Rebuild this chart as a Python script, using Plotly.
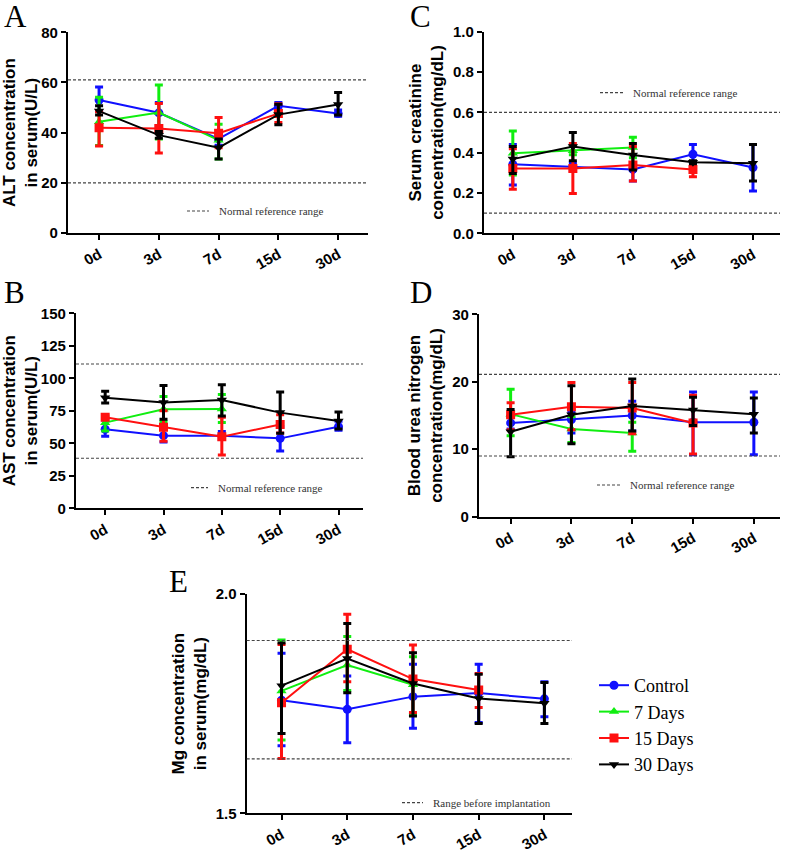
import plotly.graph_objects as go

W, H = 787, 852

categories = ["0d", "3d", "7d", "15d", "30d"]
series_names = ["Control", "7 Days", "15 Days", "30 Days"]
series_colors = ["#1010ff", "#10ee10", "#ff1010", "#000000"]
series_symbols = ["circle", "triangle-up", "square", "triangle-down"]

# ---- Panel A: ALT (U/L) ----
alt_control = [53.0, 47.9, 37.5, 50.7, 47.6]
alt_control_hi = [58.2, 52.0, 39.5, 52.0, 49.0]
alt_control_lo = [48.5, 42.7, 35.0, 49.0, 46.5]
alt_7d = [44.3, 48.0, 37.0]
alt_7d_hi = [54.1, 59.0, 43.3]
alt_7d_lo = [34.9, 37.5, 29.5]
alt_15d = [42.0, 41.7, 39.8, 47.6]
alt_15d_hi = [48.3, 51.6, 46.0, 51.5]
alt_15d_lo = [34.7, 31.9, 34.0, 44.0]
alt_30d = [48.6, 39.0, 34.0, 47.2, 51.2]
alt_30d_hi = [50.7, 40.5, 37.5, 51.3, 56.0]
alt_30d_lo = [47.0, 37.8, 29.5, 43.1, 47.0]
alt_ref = [61.0, 20.0]

# ---- Panel B: AST (U/L) ----
ast_control = [60.8, 55.9, 55.9, 53.8, 62.8]
ast_control_hi = [68.0, 61.0, 59.0, 63.0, 67.0]
ast_control_lo = [55.5, 51.0, 53.0, 44.0, 60.0]
ast_7d = [65.9, 76.2, 76.4]
ast_7d_hi = [71.0, 86.0, 87.5]
ast_7d_lo = [59.5, 66.7, 66.0]
ast_15d = [70.0, 62.3, 55.1, 64.4]
ast_15d_hi = [71.0, 75.0, 70.0, 72.0]
ast_15d_lo = [69.0, 51.5, 41.0, 58.0]
ast_30d = [85.1, 81.3, 83.3, 73.6, 67.2]
ast_30d_hi = [90.0, 94.5, 95.0, 89.5, 74.0]
ast_30d_lo = [81.0, 68.5, 71.0, 57.7, 61.0]
ast_ref = [111.0, 38.5]

# ---- Panel C: creatinine (mg/dL) ----
cre_control = [0.342, 0.330, 0.317, 0.392, 0.326]
cre_control_hi = [0.440, 0.350, 0.330, 0.440, 0.440]
cre_control_lo = [0.240, 0.310, 0.260, 0.350, 0.210]
cre_7d = [0.397, 0.410, 0.425]
cre_7d_hi = [0.507, 0.430, 0.476]
cre_7d_lo = [0.289, 0.390, 0.375]
cre_15d = [0.322, 0.322, 0.339, 0.317]
cre_15d_hi = [0.420, 0.446, 0.430, 0.355]
cre_15d_lo = [0.218, 0.198, 0.260, 0.280]
cre_30d = [0.368, 0.430, 0.388, 0.352, 0.347]
cre_30d_hi = [0.430, 0.500, 0.446, 0.360, 0.440]
cre_30d_lo = [0.297, 0.360, 0.314, 0.345, 0.260]
cre_ref = [0.6, 0.1]

# ---- Panel D: BUN (mg/dL) ----
bun_control = [13.9, 14.4, 15.0, 14.0, 14.0]
bun_control_hi = [14.8, 15.5, 17.1, 18.5, 18.5]
bun_control_lo = [13.0, 12.4, 12.7, 9.2, 9.2]
bun_7d = [15.2, 13.0, 12.4]
bun_7d_hi = [18.9, 14.8, 14.0]
bun_7d_lo = [12.0, 11.0, 9.7]
bun_15d = [15.1, 16.3, 16.1, 13.9]
bun_15d_hi = [16.9, 19.9, 19.9, 18.0]
bun_15d_lo = [12.9, 12.9, 12.3, 9.3]
bun_30d = [12.6, 15.1, 16.4, 15.8, 15.2]
bun_30d_hi = [15.9, 19.4, 20.4, 17.7, 17.6]
bun_30d_lo = [8.9, 10.8, 12.7, 13.5, 12.4]
bun_ref = [21.1, 9.0]

# ---- Panel E: Mg (mg/dL) ----
mg_control = [1.758, 1.737, 1.766, 1.774, 1.761]
mg_control_hi = [1.865, 1.813, 1.840, 1.840, 1.800]
mg_control_lo = [1.654, 1.661, 1.694, 1.707, 1.720]
mg_7d = [1.779, 1.838, 1.793]
mg_7d_hi = [1.895, 1.903, 1.857]
mg_7d_lo = [1.667, 1.780, 1.726]
mg_15d = [1.752, 1.874, 1.806, 1.781]
mg_15d_hi = [1.885, 1.954, 1.884, 1.819]
mg_15d_lo = [1.625, 1.800, 1.730, 1.741]
mg_30d = [1.791, 1.853, 1.796, 1.762, 1.751]
mg_30d_hi = [1.888, 1.933, 1.866, 1.817, 1.798]
mg_30d_lo = [1.682, 1.775, 1.722, 1.705, 1.705]
mg_ref = [1.894, 1.624]

panels = [
    dict(letter="A", title="ALT concentration<br>in serum(U/L)",
         data=[(alt_control, alt_control_hi, alt_control_lo), (alt_7d, alt_7d_hi, alt_7d_lo),
               (alt_15d, alt_15d_hi, alt_15d_lo), (alt_30d, alt_30d_hi, alt_30d_lo)],
         ref=alt_ref, yrange=[0, 80], ytick=[0, 20, 40, 60, 80], ytext=None,
         box=(68, 368, 32.3, 233), xr=[-0.52, 4.5], letterpos=(15, 16),
         note="Normal reference range", notepos=(187, 209, 211)),
    dict(letter="B", title="AST concentration<br>in serum(U/L)",
         data=[(ast_control, ast_control_hi, ast_control_lo), (ast_7d, ast_7d_hi, ast_7d_lo),
               (ast_15d, ast_15d_hi, ast_15d_lo), (ast_30d, ast_30d_hi, ast_30d_lo)],
         ref=ast_ref, yrange=[0, 150], ytick=[0, 25, 50, 75, 100, 125, 150], ytext=None,
         box=(76, 363, 313.3, 508.3), xr=[-0.5, 4.42], letterpos=(14, 292),
         note="Normal reference range", notepos=(191, 208, 487.7)),
    dict(letter="C", title="Serum creatinine<br>concentration(mg/dL)",
         data=[(cre_control, cre_control_hi, cre_control_lo), (cre_7d, cre_7d_hi, cre_7d_lo),
               (cre_15d, cre_15d_hi, cre_15d_lo), (cre_30d, cre_30d_hi, cre_30d_lo)],
         ref=cre_ref, yrange=[0, 1.0], ytick=[0, 0.2, 0.4, 0.6, 0.8, 1.0],
         ytext=["0.0", "0.2", "0.4", "0.6", "0.8", "1.0"],
         box=(484, 780, 31.7, 233.3), xr=[-0.48, 4.45], letterpos=(421, 16),
         note="Normal reference range", notepos=(600, 623, 92.7)),
    dict(letter="D", title="Blood urea nitrogen<br>concentration(mg/dL)",
         data=[(bun_control, bun_control_hi, bun_control_lo), (bun_7d, bun_7d_hi, bun_7d_lo),
               (bun_15d, bun_15d_hi, bun_15d_lo), (bun_30d, bun_30d_hi, bun_30d_lo)],
         ref=bun_ref, yrange=[0, 30], ytick=[0, 10, 20, 30], ytext=None,
         box=(479, 780, 314.3, 516.7), xr=[-0.52, 4.43], letterpos=(421, 292),
         note="Normal reference range", notepos=(597, 620, 485)),
    dict(letter="E", title="Mg concentration<br>in serum(mg/dL)",
         data=[(mg_control, mg_control_hi, mg_control_lo), (mg_7d, mg_7d_hi, mg_7d_lo),
               (mg_15d, mg_15d_hi, mg_15d_lo), (mg_30d, mg_30d_hi, mg_30d_lo)],
         ref=mg_ref, yrange=[1.5, 2.0], ytick=[1.5, 2.0], ytext=["1.5", "2.0"],
         box=(246.7, 572, 594, 813.3), xr=[-0.53, 4.42], letterpos=(178, 581),
         note="Range before implantation", notepos=(402, 423, 802.7)),
]

fig = go.Figure()
shapes = []
annotations = []
tick_font = dict(family="Liberation Sans, Arial", size=15, color="black", weight="bold")
title_font = dict(family="Liberation Sans, Arial", size=17, color="black", weight="bold")
serif = "Liberation Serif"

for i, p in enumerate(panels):
    n = "" if i == 0 else str(i + 1)
    xa, ya = "x" + n, "y" + n
    x0, x1, top, bot = p["box"]
    fig.layout["xaxis" + n] = dict(
        domain=[x0 / W, x1 / W], anchor=ya, range=p["xr"], automargin=False,
        tickvals=list(range(len(categories))), ticktext=categories, tickangle=-30,
        showline=True, linecolor="black", linewidth=2.2, ticks="outside", ticklen=5,
        tickwidth=2, tickcolor="black", showgrid=False, zeroline=False, tickfont=tick_font)
    fig.layout["yaxis" + n] = dict(
        domain=[1 - bot / H, 1 - top / H], anchor=xa, range=p["yrange"], automargin=False,
        tickvals=p["ytick"], ticktext=p["ytext"] if p["ytext"] else [str(v) for v in p["ytick"]],
        showline=True, linecolor="black", linewidth=2.2, ticks="outside", ticklen=5,
        tickwidth=2, tickcolor="black", showgrid=False, zeroline=False, tickfont=tick_font,
        title=dict(text=p["title"], font=title_font, standoff=5))
    for s, (mean, hi, lo) in enumerate(p["data"]):
        xs = list(range(len(mean)))
        fig.add_trace(go.Scatter(
            x=xs, y=mean, xaxis=xa, yaxis=ya, mode="lines+markers",
            name=series_names[s], showlegend=(i == 4),
            line=dict(color=series_colors[s], width=2),
            marker=dict(symbol=series_symbols[s], size=9, color=series_colors[s]),
            error_y=dict(type="data", symmetric=False,
                         array=[h - m for h, m in zip(hi, mean)],
                         arrayminus=[m - l for m, l in zip(mean, lo)],
                         color=series_colors[s], thickness=3, width=4)))
    for r in p["ref"]:
        shapes.append(dict(type="line", xref=xa + " domain", yref=ya, x0=0, x1=1, y0=r, y1=r,
                           line=dict(color="#444444", width=1.2, dash="3px,2px")))
    dx0, dx1, dy = p["notepos"]
    shapes.append(dict(type="line", xref="paper", yref="paper", x0=dx0 / W, x1=dx1 / W,
                       y0=1 - dy / H, y1=1 - dy / H, line=dict(color="#444444", width=1.2, dash="3px,2px")))
    annotations.append(dict(x=(dx1 + 8) / W, y=1 - dy / H, xref="paper", yref="paper",
                            text=p["note"], showarrow=False, xanchor="left", yanchor="middle",
                            font=dict(family=serif, size=11, color="#333333")))
    lx, ly = p["letterpos"]
    annotations.append(dict(x=lx / W, y=1 - ly / H, xref="paper", yref="paper", text=p["letter"],
                            showarrow=False, xanchor="center", yanchor="middle",
                            font=dict(family=serif, size=31, color="black")))

fig.update_layout(
    template="none",
    width=W, height=H, margin=dict(l=0, r=0, t=0, b=0, autoexpand=False),
    paper_bgcolor="white", plot_bgcolor="white",
    shapes=shapes, annotations=annotations,
    legend=dict(x=594 / W, y=1 - 667 / H, xanchor="left", yanchor="top",
                font=dict(family="Liberation Serif, Times New Roman, serif", size=18, color="black"),
                bgcolor="rgba(0,0,0,0)", itemwidth=30, tracegroupgap=0),
)

fig.write_html("out.html", config={"displayModeBar": False},
               post_script="document.body.style.margin='0';")
